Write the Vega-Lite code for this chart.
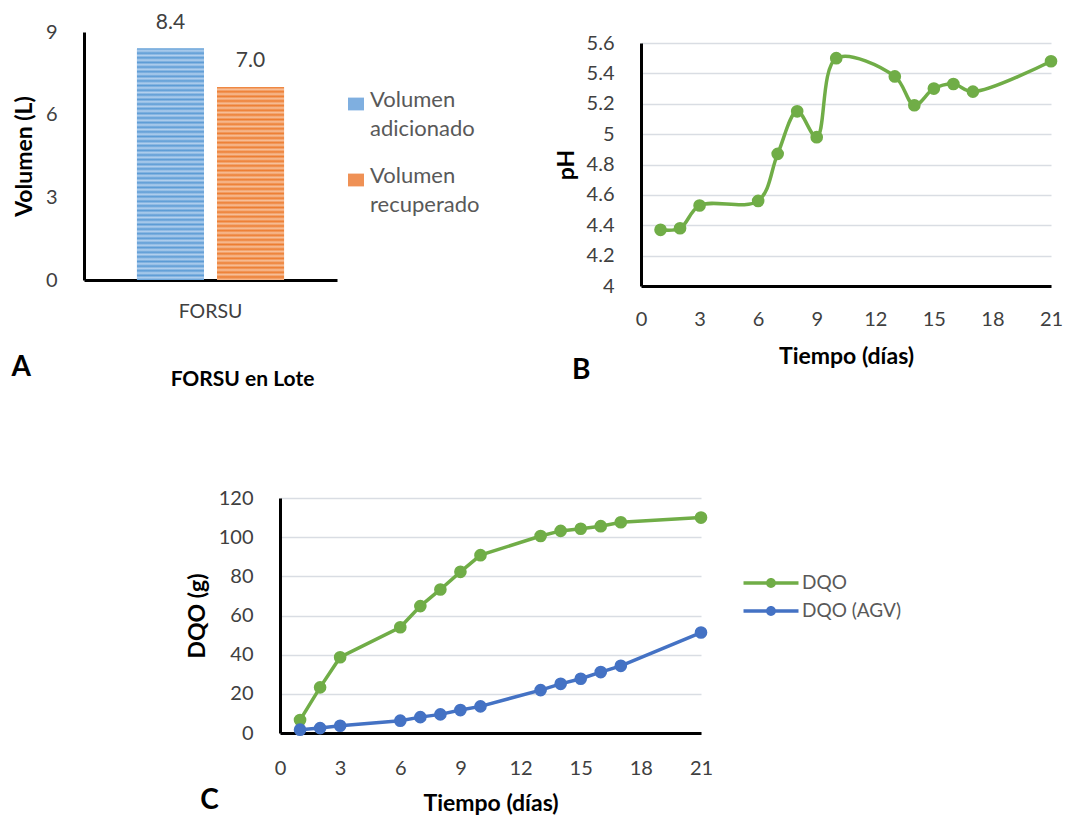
{
  "$schema": "https://vega.github.io/schema/vega-lite/v6.json",
  "padding": {"left": 11, "top": 11, "right": 5, "bottom": 5},
  "background": "white",
  "config": {
    "view": {"stroke": null},
    "font": "Lato",
    "axis": {
      "domainColor": "#000000", "domainWidth": 3, "ticks": false, "labelFlush": false,
      "labelColor": "#404040", "labelFontSize": 20, "labelFont": "Lato",
      "titleColor": "#000000", "titleFontWeight": "bold", "titleFontSize": 23, "titleFont": "Lato",
      "gridColor": "#D9DDE3", "gridWidth": 1.5
    },
    "title": {"fontSize": 28, "fontWeight": "bold", "color": "#000000", "font": "Lato"}
  },
  "resolve": {"scale": {"color": "independent", "x": "independent", "y": "independent"}},
  "spacing": 98,
  "vconcat": [
    {
      "resolve": {"scale": {"color": "independent", "x": "independent", "y": "independent"}},
      "spacing": 75,
      "hconcat": [
        {
          "width": 253,
          "height": 248,
          "title": {"text": "A", "orient": "bottom", "anchor": "start", "frame": "bounds", "dx": -2, "dy": -40},
          "data": {"values": [
            {"grupo": "FORSU", "serie": "Volumen adicionado", "volumen": 8.4},
            {"grupo": "FORSU", "serie": "Volumen recuperado", "volumen": 7.0}
          ]},
          "encoding": {
            "x": {"field": "grupo", "type": "nominal",
              "scale": {"paddingInner": 0, "paddingOuter": 0.36},
              "axis": {"title": "FORSU en Lote", "labelAngle": 0, "labelPadding": 22, "titlePadding": 48, "labelFontSize": 19.5, "titleFontSize": 21, "titleX": 158, "titleAlign": "center"}},
            "xOffset": {"field": "serie", "type": "nominal", "scale": {"paddingInner": 0.1625, "paddingOuter": 0}},
            "y": {"field": "volumen", "type": "quantitative", "scale": {"domain": [0, 9]},
              "axis": {"values": [0, 3, 6, 9], "title": "Volumen (L)", "grid": false, "labelPadding": 27, "titlePadding": 9}}
          },
          "layer": [
            {
              "mark": {"type": "bar"},
              "encoding": {
                "color": {"field": "serie", "type": "nominal",
                  "scale": {"range": ["#7FAFE0", "#EF9155"]},
                  "legend": {
                    "title": null, "orient": "none", "legendX": 261, "legendY": 61, "padding": 0,
                    "symbolType": "M-1,-0.8H1V0.8H-1Z", "symbolSize": 256, "symbolStrokeWidth": 0,
                    "labelExpr": "split(datum.label, ' ')", "labelFontSize": 22, "labelColor": "#595959",
                    "labelFont": "Lato", "labelOffset": 3, "labelBaseline": "top", "rowPadding": 25,
                    "encode": {"labels": {"update": {"dy": {"value": -14}, "lineHeight": {"value": 29}}}}
                  }}
              }
            },
            {
              "transform": [{"filter": "datum.serie == 'Volumen adicionado'"}],
              "mark": {"type": "bar", "fill": {"gradient": "linear", "x1": 0, "y1": 0, "x2": 0, "y2": 1, "stops": [
                {"offset": 0.00, "color": "#5B9BD5"}, {"offset": 0.01, "color": "#B3D0EE"}, {"offset": 0.02, "color": "#5B9BD5"}, {"offset": 0.03, "color": "#B3D0EE"}, {"offset": 0.04, "color": "#5B9BD5"}, {"offset": 0.05, "color": "#B3D0EE"}, {"offset": 0.06, "color": "#5B9BD5"}, {"offset": 0.07, "color": "#B3D0EE"}, {"offset": 0.08, "color": "#5B9BD5"}, {"offset": 0.09, "color": "#B3D0EE"},
                {"offset": 0.10, "color": "#5B9BD5"}, {"offset": 0.11, "color": "#B3D0EE"}, {"offset": 0.12, "color": "#5B9BD5"}, {"offset": 0.13, "color": "#B3D0EE"}, {"offset": 0.14, "color": "#5B9BD5"}, {"offset": 0.15, "color": "#B3D0EE"}, {"offset": 0.16, "color": "#5B9BD5"}, {"offset": 0.17, "color": "#B3D0EE"}, {"offset": 0.18, "color": "#5B9BD5"}, {"offset": 0.19, "color": "#B3D0EE"},
                {"offset": 0.20, "color": "#5B9BD5"}, {"offset": 0.21, "color": "#B3D0EE"}, {"offset": 0.22, "color": "#5B9BD5"}, {"offset": 0.23, "color": "#B3D0EE"}, {"offset": 0.24, "color": "#5B9BD5"}, {"offset": 0.25, "color": "#B3D0EE"}, {"offset": 0.26, "color": "#5B9BD5"}, {"offset": 0.27, "color": "#B3D0EE"}, {"offset": 0.28, "color": "#5B9BD5"}, {"offset": 0.29, "color": "#B3D0EE"},
                {"offset": 0.30, "color": "#5B9BD5"}, {"offset": 0.31, "color": "#B3D0EE"}, {"offset": 0.32, "color": "#5B9BD5"}, {"offset": 0.33, "color": "#B3D0EE"}, {"offset": 0.34, "color": "#5B9BD5"}, {"offset": 0.35, "color": "#B3D0EE"}, {"offset": 0.36, "color": "#5B9BD5"}, {"offset": 0.37, "color": "#B3D0EE"}, {"offset": 0.38, "color": "#5B9BD5"}, {"offset": 0.39, "color": "#B3D0EE"},
                {"offset": 0.40, "color": "#5B9BD5"}, {"offset": 0.41, "color": "#B3D0EE"}, {"offset": 0.42, "color": "#5B9BD5"}, {"offset": 0.43, "color": "#B3D0EE"}, {"offset": 0.44, "color": "#5B9BD5"}, {"offset": 0.45, "color": "#B3D0EE"}, {"offset": 0.46, "color": "#5B9BD5"}, {"offset": 0.47, "color": "#B3D0EE"}, {"offset": 0.48, "color": "#5B9BD5"}, {"offset": 0.49, "color": "#B3D0EE"},
                {"offset": 0.50, "color": "#5B9BD5"}, {"offset": 0.51, "color": "#B3D0EE"}, {"offset": 0.52, "color": "#5B9BD5"}, {"offset": 0.53, "color": "#B3D0EE"}, {"offset": 0.54, "color": "#5B9BD5"}, {"offset": 0.55, "color": "#B3D0EE"}, {"offset": 0.56, "color": "#5B9BD5"}, {"offset": 0.57, "color": "#B3D0EE"}, {"offset": 0.58, "color": "#5B9BD5"}, {"offset": 0.59, "color": "#B3D0EE"},
                {"offset": 0.60, "color": "#5B9BD5"}, {"offset": 0.61, "color": "#B3D0EE"}, {"offset": 0.62, "color": "#5B9BD5"}, {"offset": 0.63, "color": "#B3D0EE"}, {"offset": 0.64, "color": "#5B9BD5"}, {"offset": 0.65, "color": "#B3D0EE"}, {"offset": 0.66, "color": "#5B9BD5"}, {"offset": 0.67, "color": "#B3D0EE"}, {"offset": 0.68, "color": "#5B9BD5"}, {"offset": 0.69, "color": "#B3D0EE"},
                {"offset": 0.70, "color": "#5B9BD5"}, {"offset": 0.71, "color": "#B3D0EE"}, {"offset": 0.72, "color": "#5B9BD5"}, {"offset": 0.73, "color": "#B3D0EE"}, {"offset": 0.74, "color": "#5B9BD5"}, {"offset": 0.75, "color": "#B3D0EE"}, {"offset": 0.76, "color": "#5B9BD5"}, {"offset": 0.77, "color": "#B3D0EE"}, {"offset": 0.78, "color": "#5B9BD5"}, {"offset": 0.79, "color": "#B3D0EE"},
                {"offset": 0.80, "color": "#5B9BD5"}, {"offset": 0.81, "color": "#B3D0EE"}, {"offset": 0.82, "color": "#5B9BD5"}, {"offset": 0.83, "color": "#B3D0EE"}, {"offset": 0.84, "color": "#5B9BD5"}, {"offset": 0.85, "color": "#B3D0EE"}, {"offset": 0.86, "color": "#5B9BD5"}, {"offset": 0.87, "color": "#B3D0EE"}, {"offset": 0.88, "color": "#5B9BD5"}, {"offset": 0.89, "color": "#B3D0EE"},
                {"offset": 0.90, "color": "#5B9BD5"}, {"offset": 0.91, "color": "#B3D0EE"}, {"offset": 0.92, "color": "#5B9BD5"}, {"offset": 0.93, "color": "#B3D0EE"}, {"offset": 0.94, "color": "#5B9BD5"}, {"offset": 0.95, "color": "#B3D0EE"}, {"offset": 0.96, "color": "#5B9BD5"}, {"offset": 0.97, "color": "#B3D0EE"}, {"offset": 0.98, "color": "#5B9BD5"}, {"offset": 0.99, "color": "#B3D0EE"},
                {"offset": 1.00, "color": "#5B9BD5"}
              ]}}
            },
            {
              "transform": [{"filter": "datum.serie == 'Volumen recuperado'"}],
              "mark": {"type": "bar", "fill": {"gradient": "linear", "x1": 0, "y1": 0, "x2": 0, "y2": 1, "stops": [
                {"offset": 0.00, "color": "#ED7D31"}, {"offset": 0.012, "color": "#F7C09A"}, {"offset": 0.024, "color": "#ED7D31"}, {"offset": 0.036, "color": "#F7C09A"}, {"offset": 0.048, "color": "#ED7D31"}, {"offset": 0.060, "color": "#F7C09A"}, {"offset": 0.072, "color": "#ED7D31"}, {"offset": 0.084, "color": "#F7C09A"}, {"offset": 0.096, "color": "#ED7D31"}, {"offset": 0.108, "color": "#F7C09A"},
                {"offset": 0.120, "color": "#ED7D31"}, {"offset": 0.132, "color": "#F7C09A"}, {"offset": 0.144, "color": "#ED7D31"}, {"offset": 0.156, "color": "#F7C09A"}, {"offset": 0.168, "color": "#ED7D31"}, {"offset": 0.180, "color": "#F7C09A"}, {"offset": 0.192, "color": "#ED7D31"}, {"offset": 0.204, "color": "#F7C09A"}, {"offset": 0.216, "color": "#ED7D31"}, {"offset": 0.228, "color": "#F7C09A"},
                {"offset": 0.240, "color": "#ED7D31"}, {"offset": 0.252, "color": "#F7C09A"}, {"offset": 0.264, "color": "#ED7D31"}, {"offset": 0.276, "color": "#F7C09A"}, {"offset": 0.288, "color": "#ED7D31"}, {"offset": 0.300, "color": "#F7C09A"}, {"offset": 0.312, "color": "#ED7D31"}, {"offset": 0.324, "color": "#F7C09A"}, {"offset": 0.336, "color": "#ED7D31"}, {"offset": 0.348, "color": "#F7C09A"},
                {"offset": 0.360, "color": "#ED7D31"}, {"offset": 0.372, "color": "#F7C09A"}, {"offset": 0.384, "color": "#ED7D31"}, {"offset": 0.396, "color": "#F7C09A"}, {"offset": 0.408, "color": "#ED7D31"}, {"offset": 0.420, "color": "#F7C09A"}, {"offset": 0.432, "color": "#ED7D31"}, {"offset": 0.444, "color": "#F7C09A"}, {"offset": 0.456, "color": "#ED7D31"}, {"offset": 0.468, "color": "#F7C09A"},
                {"offset": 0.480, "color": "#ED7D31"}, {"offset": 0.492, "color": "#F7C09A"}, {"offset": 0.504, "color": "#ED7D31"}, {"offset": 0.516, "color": "#F7C09A"}, {"offset": 0.528, "color": "#ED7D31"}, {"offset": 0.540, "color": "#F7C09A"}, {"offset": 0.552, "color": "#ED7D31"}, {"offset": 0.564, "color": "#F7C09A"}, {"offset": 0.576, "color": "#ED7D31"}, {"offset": 0.588, "color": "#F7C09A"},
                {"offset": 0.600, "color": "#ED7D31"}, {"offset": 0.612, "color": "#F7C09A"}, {"offset": 0.624, "color": "#ED7D31"}, {"offset": 0.636, "color": "#F7C09A"}, {"offset": 0.648, "color": "#ED7D31"}, {"offset": 0.660, "color": "#F7C09A"}, {"offset": 0.672, "color": "#ED7D31"}, {"offset": 0.684, "color": "#F7C09A"}, {"offset": 0.696, "color": "#ED7D31"}, {"offset": 0.708, "color": "#F7C09A"},
                {"offset": 0.720, "color": "#ED7D31"}, {"offset": 0.732, "color": "#F7C09A"}, {"offset": 0.744, "color": "#ED7D31"}, {"offset": 0.756, "color": "#F7C09A"}, {"offset": 0.768, "color": "#ED7D31"}, {"offset": 0.780, "color": "#F7C09A"}, {"offset": 0.792, "color": "#ED7D31"}, {"offset": 0.804, "color": "#F7C09A"}, {"offset": 0.816, "color": "#ED7D31"}, {"offset": 0.828, "color": "#F7C09A"},
                {"offset": 0.840, "color": "#ED7D31"}, {"offset": 0.852, "color": "#F7C09A"}, {"offset": 0.864, "color": "#ED7D31"}, {"offset": 0.876, "color": "#F7C09A"}, {"offset": 0.888, "color": "#ED7D31"}, {"offset": 0.900, "color": "#F7C09A"}, {"offset": 0.912, "color": "#ED7D31"}, {"offset": 0.924, "color": "#F7C09A"}, {"offset": 0.936, "color": "#ED7D31"}, {"offset": 0.948, "color": "#F7C09A"},
                {"offset": 0.960, "color": "#ED7D31"}, {"offset": 0.972, "color": "#F7C09A"}, {"offset": 0.984, "color": "#ED7D31"}, {"offset": 1.00, "color": "#F7C09A"}
              ]}}
            },
            {
              "mark": {"type": "text", "dy": -26, "fontSize": 21, "color": "#404040", "font": "Lato"},
              "encoding": {"text": {"field": "volumen", "type": "quantitative", "format": ".1f"}}
            }
          ]
        },
        {
          "spacing": 0,
          "vconcat": [
            {"width": 410, "height": 1, "data": {"values": []}, "mark": "point"},
            {
              "width": 410,
              "height": 243,
              "title": {"text": "B", "orient": "bottom", "anchor": "start", "frame": "bounds", "dx": 17, "dy": -15},
              "data": {"values": [
                {"dia": 1, "pH": 4.37}, {"dia": 2, "pH": 4.38}, {"dia": 3, "pH": 4.53}, {"dia": 6, "pH": 4.56},
                {"dia": 7, "pH": 4.87}, {"dia": 8, "pH": 5.15}, {"dia": 9, "pH": 4.98}, {"dia": 10, "pH": 5.50},
                {"dia": 13, "pH": 5.38}, {"dia": 14, "pH": 5.19}, {"dia": 15, "pH": 5.30}, {"dia": 16, "pH": 5.33},
                {"dia": 17, "pH": 5.28}, {"dia": 21, "pH": 5.48}
              ]},
              "encoding": {
                "x": {"field": "dia", "type": "quantitative", "scale": {"domain": [0, 21], "nice": false},
                  "axis": {"values": [0, 3, 6, 9, 12, 15, 18, 21], "title": "Tiempo (días)", "grid": false, "labelPadding": 23, "titlePadding": 16}},
                "y": {"field": "pH", "type": "quantitative", "scale": {"domain": [4, 5.6], "nice": false, "zero": false},
                  "axis": {"values": [4, 4.2, 4.4, 4.6, 4.8, 5, 5.2, 5.4, 5.6], "format": ".1~f", "title": "pH", "labelPadding": 27, "titlePadding": 8}}
              },
              "layer": [
                {"mark": {"type": "line", "interpolate": "catmull-rom", "color": "#70AD47", "strokeWidth": 3.5}},
                {"mark": {"type": "circle", "size": 160, "color": "#70AD47", "opacity": 1}}
              ]
            }
          ]
        }
      ]
    },
    {
      "resolve": {"scale": {"color": "independent", "x": "independent", "y": "independent"}},
      "spacing": 2,
      "hconcat": [
        {"width": 100, "height": 1, "data": {"values": []}, "mark": "point"},
        {
          "width": 421,
          "height": 235,
          "title": {"text": "C", "orient": "bottom", "anchor": "start", "frame": "bounds", "dx": 14, "dy": -32},
          "data": {"values": [
            {"dia": 1, "medida": "DQO", "dqo": 6.6}, {"dia": 2, "medida": "DQO", "dqo": 23.3}, {"dia": 3, "medida": "DQO", "dqo": 38.7},
            {"dia": 6, "medida": "DQO", "dqo": 54.0}, {"dia": 7, "medida": "DQO", "dqo": 64.8}, {"dia": 8, "medida": "DQO", "dqo": 73.3},
            {"dia": 9, "medida": "DQO", "dqo": 82.3}, {"dia": 10, "medida": "DQO", "dqo": 90.8}, {"dia": 13, "medida": "DQO", "dqo": 100.6},
            {"dia": 14, "medida": "DQO", "dqo": 103.2}, {"dia": 15, "medida": "DQO", "dqo": 104.3}, {"dia": 16, "medida": "DQO", "dqo": 105.6},
            {"dia": 17, "medida": "DQO", "dqo": 107.6}, {"dia": 21, "medida": "DQO", "dqo": 110.0},
            {"dia": 1, "medida": "DQO (AGV)", "dqo": 1.7}, {"dia": 2, "medida": "DQO (AGV)", "dqo": 2.5}, {"dia": 3, "medida": "DQO (AGV)", "dqo": 3.7},
            {"dia": 6, "medida": "DQO (AGV)", "dqo": 6.3}, {"dia": 7, "medida": "DQO (AGV)", "dqo": 8.1}, {"dia": 8, "medida": "DQO (AGV)", "dqo": 9.5},
            {"dia": 9, "medida": "DQO (AGV)", "dqo": 11.7}, {"dia": 10, "medida": "DQO (AGV)", "dqo": 13.6}, {"dia": 13, "medida": "DQO (AGV)", "dqo": 21.9},
            {"dia": 14, "medida": "DQO (AGV)", "dqo": 25.1}, {"dia": 15, "medida": "DQO (AGV)", "dqo": 27.7}, {"dia": 16, "medida": "DQO (AGV)", "dqo": 31.1},
            {"dia": 17, "medida": "DQO (AGV)", "dqo": 34.3}, {"dia": 21, "medida": "DQO (AGV)", "dqo": 51.3}
          ]},
          "encoding": {
            "x": {"field": "dia", "type": "quantitative", "scale": {"domain": [0, 21], "nice": false},
              "axis": {"values": [0, 3, 6, 9, 12, 15, 18, 21], "title": "Tiempo (días)", "grid": false, "labelPadding": 25, "titlePadding": 14}},
            "y": {"field": "dqo", "type": "quantitative", "scale": {"domain": [0, 120], "nice": false},
              "axis": {"values": [0, 20, 40, 60, 80, 100, 120], "title": "DQO (g)", "labelPadding": 27, "titlePadding": 9}},
            "color": {"field": "medida", "type": "nominal",
              "scale": {"domain": ["DQO", "DQO (AGV)"], "range": ["#70AD47", "#4472C4"]},
              "legend": {
                "title": null, "orient": "none", "legendX": 476, "legendY": 70, "padding": 0,
                "symbolType": "M-1.833,-0.11H1.833V0.11H-1.833Z M0.33,0A0.33,0.33,0,1,1,-0.33,0A0.33,0.33,0,1,1,0.33,0Z",
                "symbolSize": 900, "symbolStrokeWidth": 0, "symbolOpacity": 1,
                "labelFontSize": 19, "labelColor": "#595959", "labelFont": "Lato", "labelOffset": 16, "rowPadding": 3,
                "encode": {"symbols": {"update": {"fill": {"signal": "datum.value == 'DQO' ? '#70AD47' : '#4472C4'"}, "stroke": {"value": "transparent"}, "opacity": {"value": 1}}}}
              }}
          },
          "layer": [
            {"mark": {"type": "line", "strokeWidth": 3.5}},
            {"mark": {"type": "circle", "size": 160, "opacity": 1}}
          ]
        }
      ]
    }
  ]
}
